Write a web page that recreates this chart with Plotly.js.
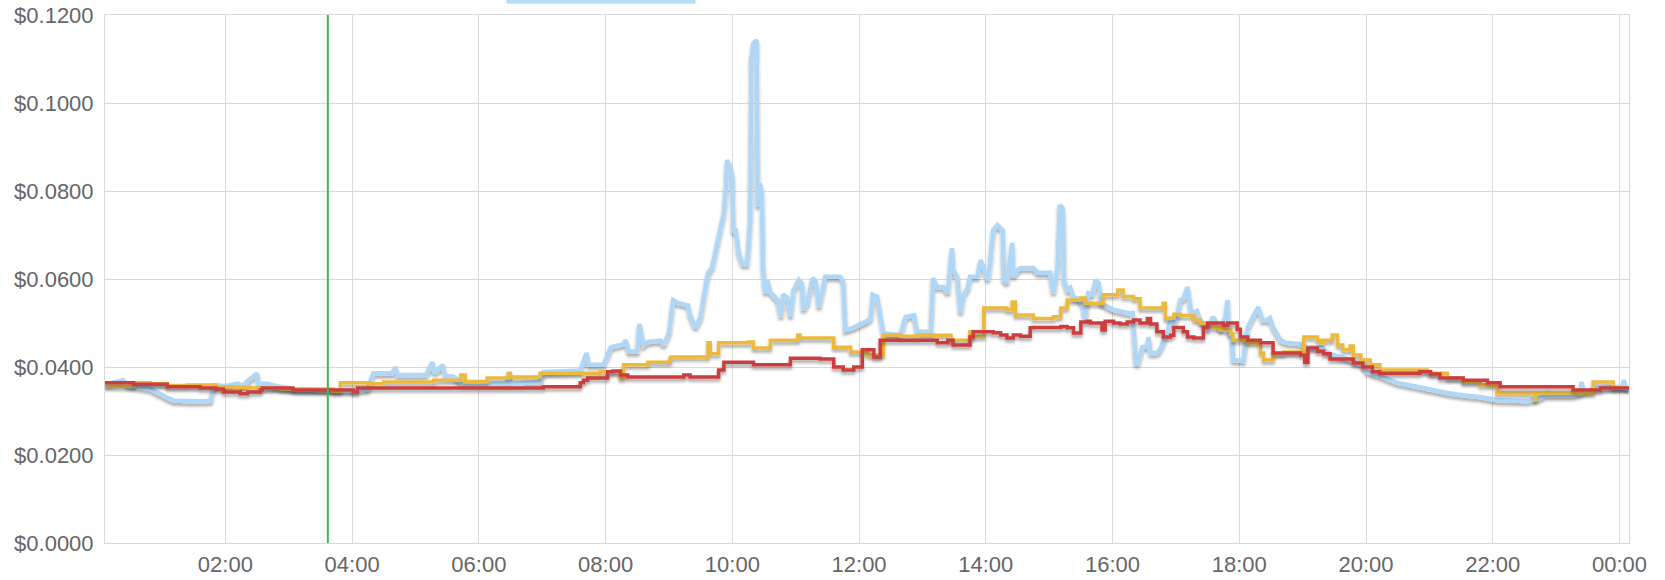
<!DOCTYPE html>
<html>
<head>
<meta charset="utf-8">
<script src="https://cdn.plot.ly/plotly-3.0.1.min.js"></script>
<style>
  html, body { margin: 0; padding: 0; background: #fff; }
  #chart { width: 1665px; height: 580px; }
</style>
</head>
<body>
<div id="chart"></div>
<script>
// ---- data (times as HH:MM; hours >= 24 belong to the next day) ----
const blueTimes = ["00:06","00:23","00:28","00:49","01:05","01:11","01:30","01:46","01:49","02:00","02:12","02:16","02:22","02:30","02:31","02:40","02:46","03:04","03:37","04:01","04:15","04:20","04:38","04:41","04:43","05:10","05:16","05:18","05:26","05:28","05:36","05:45","06:27","06:28","06:30","06:58","07:01","07:36","07:42","07:44","07:58","08:02","08:05","08:17","08:19","08:22","08:30","08:32","08:36","08:40","08:52","08:55","09:00","09:04","09:09","09:18","09:20","09:25","09:30","09:33","09:37","09:41","09:44","09:49","09:52","09:54","09:55","09:58","10:00","10:01","10:03","10:06","10:10","10:14","10:15","10:17","10:18","10:20","10:23","10:24","10:26","10:28","10:29","10:31","10:33","10:36","10:43","10:46","10:48","10:52","10:55","10:58","11:03","11:06","11:07","11:11","11:16","11:19","11:22","11:25","11:28","11:42","11:45","11:47","11:55","12:08","12:11","12:13","12:17","12:20","12:23","12:39","12:44","12:52","12:55","13:08","13:10","13:14","13:20","13:24","13:28","13:29","13:33","13:36","13:39","13:43","13:45","13:52","13:55","13:58","14:02","14:04","14:07","14:11","14:16","14:17","14:20","14:25","14:26","14:30","14:33","14:45","14:49","15:01","15:04","15:08","15:10","15:13","15:14","15:17","15:20","15:23","15:28","15:32","15:34","15:37","15:41","15:44","15:47","15:49","15:55","16:01","16:07","16:14","16:19","16:20","16:22","16:24","16:28","16:33","16:34","16:36","16:42","16:45","16:50","16:55","16:58","17:01","17:04","17:07","17:11","17:14","17:17","17:20","17:23","17:30","17:35","17:37","17:42","17:47","17:49","17:50","17:53","17:54","18:04","18:06","18:08","18:10","18:13","18:18","18:22","18:27","18:29","18:32","18:39","18:45","18:58","19:04","19:14","19:17","19:26","19:40","19:57","20:01","20:13","20:30","20:45","21:01","21:17","21:32","21:48","22:04","22:19","22:33","22:45","22:50","22:52","22:53","23:16","23:23","23:24","23:26","23:39","23:54","24:03","24:04","24:06","24:09"];
const blueValues = [0.0360,0.0370,0.0358,0.0350,0.0330,0.0324,0.0322,0.0323,0.0359,0.0357,0.0362,0.0356,0.0370,0.0386,0.0362,0.0362,0.0358,0.0350,0.0347,0.0346,0.0349,0.0386,0.0386,0.0400,0.0382,0.0382,0.0411,0.0386,0.0405,0.0380,0.0378,0.0362,0.0362,0.0386,0.0362,0.0366,0.0389,0.0392,0.0432,0.0405,0.0405,0.0432,0.0445,0.0452,0.0461,0.0435,0.0435,0.0498,0.0450,0.0457,0.0460,0.0450,0.0477,0.0552,0.0545,0.0540,0.0518,0.0490,0.0514,0.0559,0.0614,0.0627,0.0666,0.0718,0.0750,0.0809,0.0870,0.0855,0.0832,0.0705,0.0715,0.0659,0.0634,0.0634,0.0666,0.0734,0.1098,0.1136,0.1143,0.0764,0.0818,0.0795,0.0627,0.0568,0.0598,0.0570,0.0552,0.0514,0.0565,0.0558,0.0515,0.0575,0.0598,0.0590,0.0530,0.0545,0.0602,0.0595,0.0536,0.0570,0.0605,0.0605,0.0595,0.0484,0.0490,0.0505,0.0511,0.0564,0.0560,0.0520,0.0477,0.0473,0.0514,0.0518,0.0480,0.0480,0.0602,0.0582,0.0582,0.0568,0.0670,0.0620,0.0605,0.0523,0.0565,0.0580,0.0605,0.0605,0.0643,0.0625,0.0598,0.0636,0.0711,0.0723,0.0711,0.0598,0.0591,0.0682,0.0605,0.0620,0.0625,0.0625,0.0614,0.0614,0.0568,0.0630,0.0768,0.0760,0.0598,0.0575,0.0580,0.0559,0.0555,0.0540,0.0507,0.0568,0.0565,0.0598,0.0590,0.0545,0.0536,0.0530,0.0527,0.0523,0.0523,0.0490,0.0409,0.0409,0.0445,0.0447,0.0468,0.0432,0.0432,0.0440,0.0468,0.0507,0.0500,0.0514,0.0552,0.0555,0.0582,0.0530,0.0523,0.0527,0.0507,0.0484,0.0514,0.0507,0.0484,0.0514,0.0552,0.0477,0.0470,0.0416,0.0414,0.0461,0.0490,0.0500,0.0514,0.0536,0.0507,0.0507,0.0511,0.0490,0.0461,0.0455,0.0452,0.0445,0.0445,0.0445,0.0430,0.0420,0.0405,0.0389,0.0380,0.0364,0.0357,0.0348,0.0341,0.0336,0.0332,0.0325,0.0323,0.0323,0.0330,0.0336,0.0343,0.0336,0.0336,0.0340,0.0366,0.0345,0.0352,0.0355,0.0355,0.0370,0.0352,0.0352];

const yellowTimes = ["00:06","00:33","00:49","01:05","01:24","01:51","02:08","02:24","02:52","03:42","03:49","04:17","04:30","05:17","05:43","05:47","06:08","06:28","06:30","06:58","07:55","08:07","08:14","08:17","08:40","09:01","09:02","09:37","09:39","09:47","10:15","10:20","10:36","11:02","11:04","11:30","11:36","11:52","12:08","12:20","12:23","12:39","12:56","13:08","13:10","13:27","13:45","13:48","13:58","14:20","14:25","14:28","14:45","15:04","15:11","15:17","15:30","15:34","15:39","15:51","16:05","16:10","16:20","16:26","16:48","16:50","16:58","17:04","17:17","17:23","17:35","17:42","17:52","17:54","18:08","18:20","18:23","18:32","18:42","19:01","19:14","19:17","19:20","19:28","19:33","19:38","19:45","19:48","19:55","20:04","20:13","20:58","21:01","21:17","21:32","21:48","22:04","22:40","22:41","23:23","23:35","23:54","24:09"];
const yellowValues = [0.0356,0.0364,0.0362,0.0358,0.0359,0.0355,0.0354,0.0352,0.0350,0.0345,0.0364,0.0362,0.0366,0.0370,0.0382,0.0367,0.0375,0.0386,0.0377,0.0386,0.0389,0.0389,0.0375,0.0405,0.0411,0.0420,0.0423,0.0455,0.0430,0.0455,0.0457,0.0443,0.0461,0.0473,0.0466,0.0466,0.0445,0.0434,0.0427,0.0427,0.0473,0.0470,0.0473,0.0473,0.0472,0.0461,0.0480,0.0470,0.0534,0.0530,0.0548,0.0518,0.0510,0.0514,0.0534,0.0552,0.0557,0.0545,0.0545,0.0564,0.0575,0.0560,0.0555,0.0534,0.0545,0.0511,0.0520,0.0517,0.0507,0.0500,0.0490,0.0484,0.0475,0.0461,0.0455,0.0432,0.0416,0.0430,0.0434,0.0468,0.0461,0.0455,0.0461,0.0473,0.0450,0.0439,0.0448,0.0427,0.0416,0.0405,0.0393,0.0390,0.0386,0.0375,0.0366,0.0359,0.0341,0.0325,0.0341,0.0341,0.0366,0.0352,0.0352];

const redTimes = ["00:06","00:33","00:49","01:05","01:36","01:51","01:58","02:14","02:21","02:33","02:35","03:04","04:01","04:05","07:01","07:36","07:39","07:43","08:02","08:07","08:14","08:21","09:14","09:20","09:47","09:52","10:20","10:55","11:23","11:36","11:45","11:55","12:03","12:14","12:20","13:10","13:14","13:24","13:29","13:45","13:48","14:07","14:14","14:20","14:26","14:33","14:42","14:45","15:11","15:17","15:23","15:30","15:36","15:39","15:50","15:53","16:01","16:07","16:14","16:20","16:26","16:33","16:36","16:42","16:48","16:55","16:58","17:07","17:11","17:17","17:26","17:30","17:45","17:49","17:58","18:01","18:08","18:20","18:32","18:58","19:02","19:05","19:14","19:20","19:26","19:48","19:57","20:06","20:13","20:45","20:51","21:01","21:10","21:32","21:48","21:55","22:07","23:11","23:16","23:42","24:09"];
const redValues = [0.0364,0.0361,0.0361,0.0355,0.0352,0.0350,0.0343,0.0339,0.0343,0.0348,0.0352,0.0348,0.0343,0.0352,0.0355,0.0364,0.0370,0.0375,0.0389,0.0391,0.0382,0.0377,0.0382,0.0377,0.0393,0.0411,0.0405,0.0420,0.0418,0.0400,0.0393,0.0400,0.0439,0.0423,0.0461,0.0461,0.0455,0.0461,0.0450,0.0468,0.0480,0.0478,0.0473,0.0466,0.0473,0.0470,0.0489,0.0490,0.0492,0.0489,0.0477,0.0502,0.0504,0.0500,0.0484,0.0504,0.0500,0.0498,0.0502,0.0507,0.0500,0.0510,0.0498,0.0480,0.0468,0.0472,0.0490,0.0480,0.0468,0.0466,0.0490,0.0500,0.0495,0.0500,0.0486,0.0468,0.0461,0.0455,0.0432,0.0427,0.0411,0.0443,0.0436,0.0430,0.0418,0.0409,0.0400,0.0389,0.0386,0.0386,0.0389,0.0384,0.0375,0.0370,0.0370,0.0364,0.0355,0.0355,0.0348,0.0352,0.0352];

const rangeStart = "00:06";
const rangeEnd = "24:09";
const markerTime = "03:37";
const yMax = 0.12;
const yStep = 0.02;

// ---- helpers ----
function pad(n) { return (n < 10 ? "0" : "") + n; }
function toDate(hm) {
  const parts = hm.split(":").map(Number);
  const h = parts[0], m = parts[1];
  const day = h >= 24 ? "2024-01-02" : "2024-01-01";
  return day + " " + pad(h % 24) + ":" + pad(m);
}

const traces = [
  { x: blueTimes.map(toDate), y: blueValues, type: "scatter", mode: "lines",
    line: { color: "#b0d8f6", width: 4.5, shape: "linear" }, hoverinfo: "skip" },
  { x: yellowTimes.map(toDate), y: yellowValues, type: "scatter", mode: "lines",
    line: { color: "#ebb93a", width: 3.5, shape: "hv" }, hoverinfo: "skip" },
  { x: redTimes.map(toDate), y: redValues, type: "scatter", mode: "lines",
    line: { color: "#cc3e3e", width: 3.5, shape: "hv" }, hoverinfo: "skip" }
];

const tickFont = { family: "Liberation Sans, Arial, Helvetica, sans-serif", size: 22, color: "#666666" };

const layout = {
  width: 1665, height: 580,
  margin: { l: 105, r: 36, t: 15, b: 37 },
  paper_bgcolor: "#ffffff", plot_bgcolor: "#ffffff",
  showlegend: false,
  xaxis: {
    type: "date",
    range: [toDate(rangeStart), toDate(rangeEnd)],
    tick0: toDate("00:00"), dtick: 2 * 3600 * 1000,
    tickformat: "%H:%M",
    showgrid: true, gridcolor: "#d9d9d9", gridwidth: 1,
    showline: true, linecolor: "#d9d9d9", linewidth: 1, mirror: true,
    ticks: "outside", ticklen: 2, tickcolor: "rgba(0,0,0,0)",
    tickfont: tickFont, zeroline: false, fixedrange: true
  },
  yaxis: {
    range: [0, yMax], dtick: yStep, tick0: 0,
    tickprefix: "$", tickformat: ".4f",
    showgrid: true, gridcolor: "#d9d9d9", gridwidth: 1,
    showline: true, linecolor: "#d9d9d9", linewidth: 1, mirror: true,
    ticks: "outside", ticklen: 6, tickcolor: "rgba(0,0,0,0)",
    tickfont: tickFont, zeroline: false, fixedrange: true
  },
  shapes: [
    { type: "line", xref: "x", yref: "paper", x0: toDate(markerTime), x1: toDate(markerTime), y0: 0, y1: 1,
      line: { color: "#4db04f", width: 2 }, layer: "above" },
    { type: "rect", xref: "paper", yref: "paper", x0: 0.2638, x1: 0.3871, y0: 1.0227, y1: 1.08,
      fillcolor: "#b8ddf8", line: { color: "#a9d4f5", width: 1 }, layer: "above" }
  ]
};

Plotly.newPlot("chart", traces, layout, { staticPlot: true, displayModeBar: false }).then(function (gd) {
  const svg = gd.querySelector(".main-svg");
  const ns = "http://www.w3.org/2000/svg";
  let defs = svg.querySelector("defs");
  if (!defs) { defs = document.createElementNS(ns, "defs"); svg.insertBefore(defs, svg.firstChild); }
  const filter = document.createElementNS(ns, "filter");
  filter.setAttribute("id", "lineShadow");
  filter.setAttribute("x", "-5%"); filter.setAttribute("y", "-20%");
  filter.setAttribute("width", "110%"); filter.setAttribute("height", "140%");
  const ds = document.createElementNS(ns, "feDropShadow");
  ds.setAttribute("dx", "0"); ds.setAttribute("dy", "3");
  ds.setAttribute("stdDeviation", "1.8");
  ds.setAttribute("flood-color", "#000"); ds.setAttribute("flood-opacity", "0.33");
  filter.appendChild(ds);
  defs.appendChild(filter);
  gd.querySelectorAll(".scatterlayer .trace").forEach(function (t) {
    t.setAttribute("filter", "url(#lineShadow)");
  });
});
</script>
</body>
</html>
